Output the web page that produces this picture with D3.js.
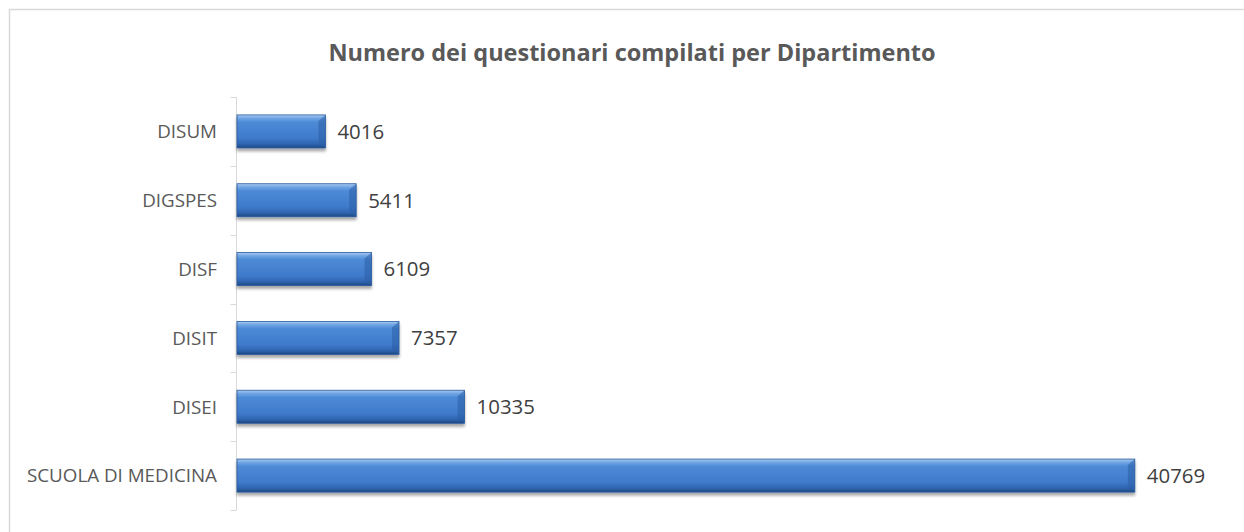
<!DOCTYPE html>
<html>
<head>
<meta charset="utf-8">
<script src="https://cdn.jsdelivr.net/npm/d3@7"></script>
<style>
  body { margin: 0; background: #fff; }
  text { font-family: "Open Sans", sans-serif; }
</style>
</head>
<body>
<div id="canvas"></div>
<script>
const categories = ["DISUM", "DIGSPES", "DISF", "DISIT", "DISEI", "SCUOLA DI MEDICINA"]
const values = [4016, 5411, 6109, 7357, 10335, 40769]
const title = "Numero dei questionari compilati per Dipartimento"

const width = 1244
const height = 532
const svg = d3.select("#canvas").append("svg")
    .attr("width", width)
    .attr("height", height)

// chart frame (right and bottom edges fall outside the window)
svg.append("rect")
    .attr("x", 9.5).attr("y", 9.5)
    .attr("width", 1260).attr("height", 560)
    .style("fill", "none")
    .style("stroke", "#d9d9d9")
    .style("stroke-width", 1.5)

const defs = svg.append("defs")
const grad = defs.append("linearGradient")
    .attr("id", "barGrad")
    .attr("x1", 0).attr("y1", 0).attr("x2", 0).attr("y2", 1)
grad.append("stop").attr("offset", "0%").attr("stop-color", "#a9cbf0")
grad.append("stop").attr("offset", "10%").attr("stop-color", "#6fa5e4")
grad.append("stop").attr("offset", "22%").attr("stop-color", "#4d8ad6")
grad.append("stop").attr("offset", "70%").attr("stop-color", "#3f7acb")
grad.append("stop").attr("offset", "88%").attr("stop-color", "#2f65b0")
grad.append("stop").attr("offset", "100%").attr("stop-color", "#1d4782")

const shadow = defs.append("filter").attr("id", "shadow")
    .attr("x", "-5%").attr("y", "-20%").attr("width", "110%").attr("height", "160%")
shadow.append("feGaussianBlur").attr("in", "SourceAlpha").attr("stdDeviation", 1.8)
shadow.append("feOffset").attr("dx", 0).attr("dy", 3).attr("result", "b")
shadow.append("feComponentTransfer").append("feFuncA").attr("type", "linear").attr("slope", 0.35)
const merge = shadow.append("feMerge")
merge.append("feMergeNode")
merge.append("feMergeNode").attr("in", "SourceGraphic")

const x = d3.scaleLinear()
    .domain([0, 45000])
    .range([237, 1228])

const y = d3.scaleBand()
    .domain(categories)
    .range([97, 510])
    .paddingInner(0.52)
    .paddingOuter(0.26)

const data = categories.map((c, i) => ({name: c, value: values[i]}))

svg.append("text")
    .attr("x", 632)
    .attr("y", 61)
    .attr("text-anchor", "middle")
    .style("font-size", "23.5px")
    .style("font-weight", "bold")
    .style("fill", "#595959")
    .text(title)

// category axis
const axisX = 236.5
const bounds = d3.range(categories.length + 1).map(i => 97 + i * y.step())
svg.append("line")
    .attr("x1", axisX).attr("x2", axisX)
    .attr("y1", bounds[0]).attr("y2", bounds[bounds.length - 1])
    .style("stroke", "#d9d9d9")
svg.selectAll(".tick").data(bounds).enter().append("line")
    .attr("class", "tick")
    .attr("x1", axisX - 6).attr("x2", axisX)
    .attr("y1", d => Math.round(d) + 0.5).attr("y2", d => Math.round(d) + 0.5)
    .style("stroke", "#d9d9d9")

svg.selectAll(".cat").data(data).enter().append("text")
    .attr("class", "cat")
    .attr("x", 217)
    .attr("y", d => y(d.name) + y.bandwidth() / 2)
    .attr("dy", "0.36em")
    .attr("text-anchor", "end")
    .style("font-size", "18.8px")
    .style("fill", "#595959")
    .text(d => d.name)

const bars = svg.selectAll(".bar").data(data).enter().append("g")
    .attr("class", "bar")
    .attr("filter", "url(#shadow)")

bars.append("rect")
    .attr("x", x(0))
    .attr("y", d => y(d.name))
    .attr("width", d => x(d.value) - x(0))
    .attr("height", y.bandwidth())
    .style("fill", "url(#barGrad)")
    .style("stroke", "#2a5a9c")
    .style("stroke-width", 0.8)

// bevel at the right end
bars.append("path")
    .attr("d", d => {
        const x1 = x(d.value), y0 = y(d.name), h = y.bandwidth()
        return `M${x1},${y0} L${x1 - 7},${y0 + 6} L${x1 - 7},${y0 + h - 5} L${x1},${y0 + h} Z`
    })
    .style("fill", "#2c5fa6")
    .style("opacity", 0.55)

svg.selectAll(".val").data(data).enter().append("text")
    .attr("class", "val")
    .attr("x", d => x(d.value) + 12)
    .attr("y", d => y(d.name) + y.bandwidth() / 2)
    .attr("dy", "0.36em")
    .style("font-size", "20.4px")
    .style("fill", "#404040")
    .text(d => d.value)
</script>
</body>
</html>
